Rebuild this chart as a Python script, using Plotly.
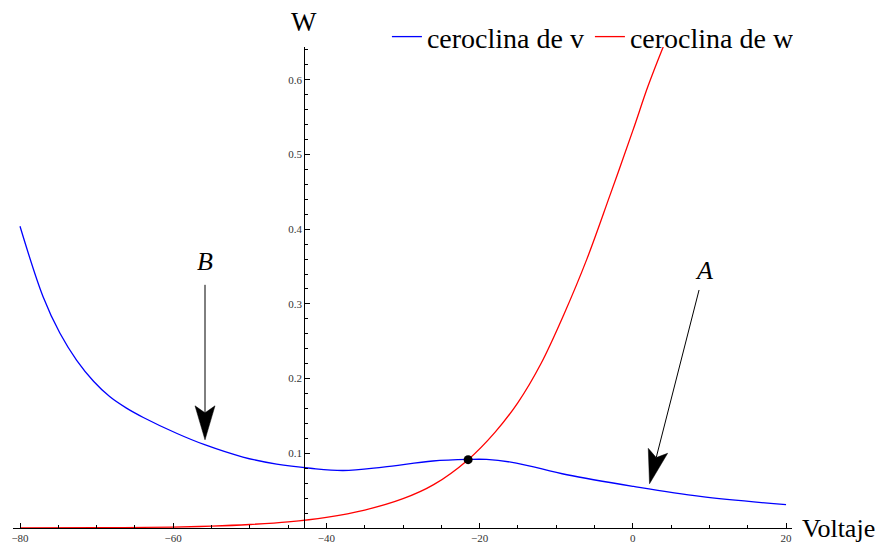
import numpy as np
import plotly.graph_objects as go

# v-nullcline ("ceroclina de v")
v_null_x = [-80, -77.0, -74.8, -72.6, -70.4, -68.3, -66.1, -63.9, -59.5, -55.9, -50.9,
            -46.5, -42.1, -37.8, -32.6, -26.1, -21.5, -19.1, -15.2, -8.6, 0.1, 8.8, 20]
v_null_w = [0.404, 0.310, 0.261, 0.2245, 0.1965, 0.1760, 0.1605, 0.148, 0.1265, 0.1115,
            0.095, 0.0855, 0.080, 0.077, 0.0816, 0.0897, 0.0918, 0.0918, 0.087, 0.0713,
            0.0557, 0.0423, 0.0312]

# w-nullcline ("ceroclina de w")
w_null_x = [-80, -70, -60, -55, -50, -45, -40, -35, -30, -26, -21.5, -18, -15, -12,
            -9, -6, -3, 0, 2, 4]
w_null_w = [0.0001, 0.0004, 0.0013, 0.0025, 0.0047, 0.0082, 0.0143, 0.024, 0.0392,
            0.058, 0.0915, 0.128, 0.168, 0.220, 0.286, 0.360, 0.445, 0.532, 0.592, 0.645]

# equilibrium point where both nullclines cross
eq_x = [-21.5]
eq_w = [0.0915]

x_tickvals = [-80, -60, -40, -20, 0, 20]
y_tickvals = [0.1, 0.2, 0.3, 0.4, 0.5, 0.6]

X_RANGE = [-80.914, 20.78]
Y_RANGE = [0, 0.644]
Y_AXIS_AT = -42.9

SERIF = "Liberation Serif"

fig = go.Figure()
fig.add_trace(go.Scatter(x=v_null_x, y=v_null_w, mode="lines", line_shape="spline",
                         line=dict(color="rgb(0,0,255)", width=1.3), name="ceroclina de v"))
fig.add_trace(go.Scatter(x=w_null_x, y=w_null_w, mode="lines", line_shape="spline",
                         line=dict(color="rgb(255,0,0)", width=1.3), name="ceroclina de w"))
fig.add_trace(go.Scatter(x=eq_x, y=eq_w, mode="markers", showlegend=False,
                         marker=dict(size=9, color="black")))


def arrow_shapes(x_at, direction, length, standoff=5, head_len=34, head_w=20, notch=27):
    """Arrow pointing at the v-nullcline at x_at; offsets in screen pixels."""
    y_at = float(np.interp(x_at, v_null_x, v_null_w))
    d = np.array(direction, float)
    d /= np.linalg.norm(d)
    n = np.array([-d[1], d[0]])
    tip = -standoff * d
    c1 = tip - head_len * d + head_w / 2 * n
    c2 = tip - head_len * d - head_w / 2 * n
    nt = tip - notch * d
    tail = tip - length * d

    def p(v):
        return f"{v[0]:.2f},{-v[1]:.2f}"

    common = dict(xref="x", yref="y", xsizemode="pixel", ysizemode="pixel",
                  xanchor=x_at, yanchor=y_at)
    head = dict(type="path", path=f"M{p(tip)} L{p(c1)} L{p(nt)} L{p(c2)} Z",
                fillcolor="black", line=dict(color="black", width=0.5), **common)
    shaft = dict(type="line", x0=nt[0], y0=-nt[1], x1=tail[0], y1=-tail[1],
                 line=dict(color="black", width=1), **common)
    return [shaft, head]


shapes = arrow_shapes(-55.85, (0, 1), 155) + arrow_shapes(2.02, (-49.4, 193.3), 200)

annotations = [
    dict(text="<i>B</i>", x=-55.85, y=0.3565, xref="x", yref="y", showarrow=False,
         font=dict(family=SERIF, size=26, color="black")),
    dict(text="<i>A</i>", x=9.23, y=0.3444, xref="x", yref="y", showarrow=False,
         font=dict(family=SERIF, size=26, color="black")),
    dict(text="W", x=Y_AXIS_AT, y=1, xref="x", yref="paper", yanchor="bottom",
         yshift=8, showarrow=False, font=dict(family=SERIF, size=27, color="black")),
    dict(text="Voltaje", x=1, y=0, xref="paper", yref="y", xanchor="left",
         xshift=8, showarrow=False, font=dict(family=SERIF, size=26, color="black")),
]

fig.update_layout(
    width=887, height=544,
    margin=dict(l=13, r=95, t=47, b=16, autoexpand=False),
    paper_bgcolor="white", plot_bgcolor="white",
    font=dict(family=SERIF),
    shapes=shapes,
    annotations=annotations,
    showlegend=True,
    legend=dict(orientation="h", x=0.48, y=1.021, xanchor="left", yanchor="middle",
                font=dict(family=SERIF, size=28, color="black"),
                bgcolor="rgba(0,0,0,0)", itemwidth=30, tracegroupgap=0,
                entrywidth=158, entrywidthmode="pixels"),
    xaxis=dict(range=X_RANGE, showgrid=False, zeroline=False, showline=True,
               linecolor="black", linewidth=1, ticks="inside", ticklen=5,
               tickcolor="black", tickvals=x_tickvals,
               tickfont=dict(family=SERIF, size=11, color="#333"),
               minor=dict(dtick=5, tick0=0, ticks="inside", ticklen=3,
                          tickcolor="black", showgrid=False),
               automargin=False, fixedrange=True),
    yaxis=dict(range=Y_RANGE, showgrid=False, zeroline=False, showline=True,
               anchor="free",
               position=(Y_AXIS_AT - X_RANGE[0]) / (X_RANGE[1] - X_RANGE[0]),
               linecolor="black", linewidth=1, ticks="inside", ticklen=5,
               tickcolor="black", tickvals=y_tickvals,
               tickfont=dict(family=SERIF, size=11, color="#333"),
               minor=dict(dtick=0.02, tick0=0, ticks="inside", ticklen=3,
                          tickcolor="black", showgrid=False),
               automargin=False, fixedrange=True),
)

fig.write_html("out.html")
